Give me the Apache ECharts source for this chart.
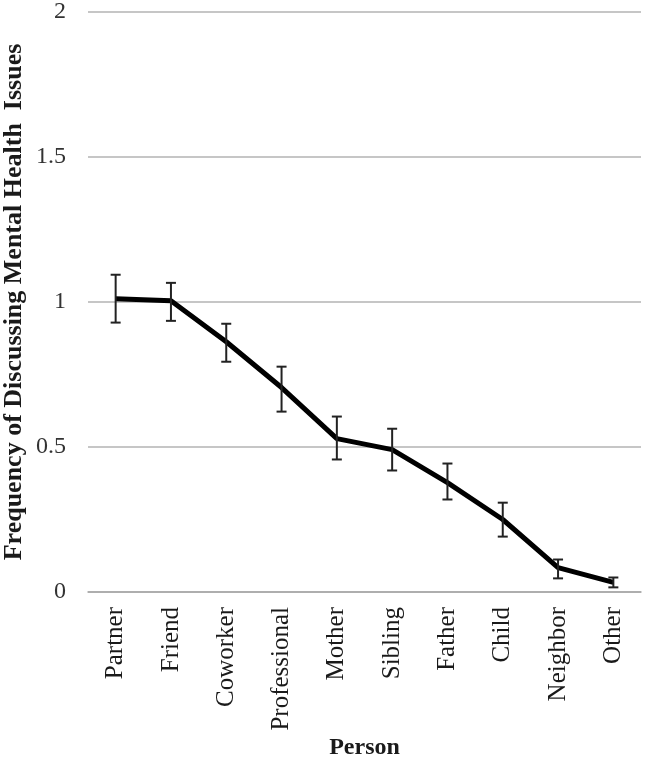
<!DOCTYPE html>
<html>
<head>
<meta charset="utf-8">
<script src="https://cdn.jsdelivr.net/npm/echarts@6/dist/echarts.min.js"></script>
<style>html,body{margin:0;padding:0;background:#fff}#c{width:645px;height:770px}</style>
</head>
<body>
<div id="c"></div>
<script>
var categories = ['Partner','Friend','Coworker','Professional','Mother','Sibling','Father','Child','Neighbor','Other'];
var means = [1.011, 1.004, 0.863, 0.705, 0.529, 0.491, 0.377, 0.250, 0.084, 0.033];
var lower = [0.929, 0.935, 0.794, 0.622, 0.457, 0.419, 0.319, 0.191, 0.047, 0.016];
var upper = [1.094, 1.066, 0.925, 0.777, 0.605, 0.563, 0.443, 0.308, 0.112, 0.050];
var yTicks = [0, 0.5, 1, 1.5, 2];

var errData = categories.map(function(c, i){ return [i, lower[i], upper[i]]; });
var font = 'Liberation Serif, Times New Roman, serif';
var chart = echarts.init(document.getElementById('c'));
chart.setOption({
  animation: false,
  grid: {left: 88, right: 4, top: 12, bottom: 178, containLabel: false, outerBoundsMode: 'none'},
  xAxis: {
    type: 'category', data: categories, boundaryGap: true,
    name: 'Person', nameLocation: 'middle', nameGap: 144, nameMoveOverlap: false,
    nameTextStyle: {fontFamily: font, fontWeight: 'bold', fontSize: 24, color: '#1a1a1a'},
    axisLine: {lineStyle: {color: '#a6a6a6', width: 1.5}},
    axisTick: {show: false},
    axisLabel: {rotate: 90, fontFamily: font, fontSize: 25, color: '#1a1a1a', margin: 15}
  },
  yAxis: {
    type: 'value', min: 0, max: 2, interval: 0.5,
    name: 'Frequency of Discussing Mental Health  Issues', nameLocation: 'middle', nameGap: 61, nameMoveOverlap: false,
    nameTextStyle: {fontFamily: font, fontWeight: 'bold', fontSize: 26, color: '#1a1a1a'},
    axisLine: {show: false}, axisTick: {show: false},
    axisLabel: {fontFamily: font, fontSize: 24, color: '#333', margin: 22,
      formatter: function(v){ return yTicks.indexOf(v) >= 0 ? String(v) : ''; }},
    splitLine: {lineStyle: {color: '#b3b3b3', width: 1.5}}
  },
  series: [
    {type: 'line', data: means, symbol: 'none', lineStyle: {color: '#000', width: 5}, z: 2},
    {type: 'custom', data: errData, z: 3,
      renderItem: function(params, api){
        var x = api.value(0);
        var lo = api.coord([x, api.value(1)]);
        var hi = api.coord([x, api.value(2)]);
        var hw = 5;
        var st = {stroke: '#222', lineWidth: 2};
        return {type: 'group', children: [
          {type: 'line', shape: {x1: lo[0], y1: lo[1], x2: hi[0], y2: hi[1]}, style: st},
          {type: 'line', shape: {x1: lo[0]-hw, y1: lo[1], x2: lo[0]+hw, y2: lo[1]}, style: st},
          {type: 'line', shape: {x1: hi[0]-hw, y1: hi[1], x2: hi[0]+hw, y2: hi[1]}, style: st}
        ]};
      }
    }
  ]
});
</script>
</body>
</html>
